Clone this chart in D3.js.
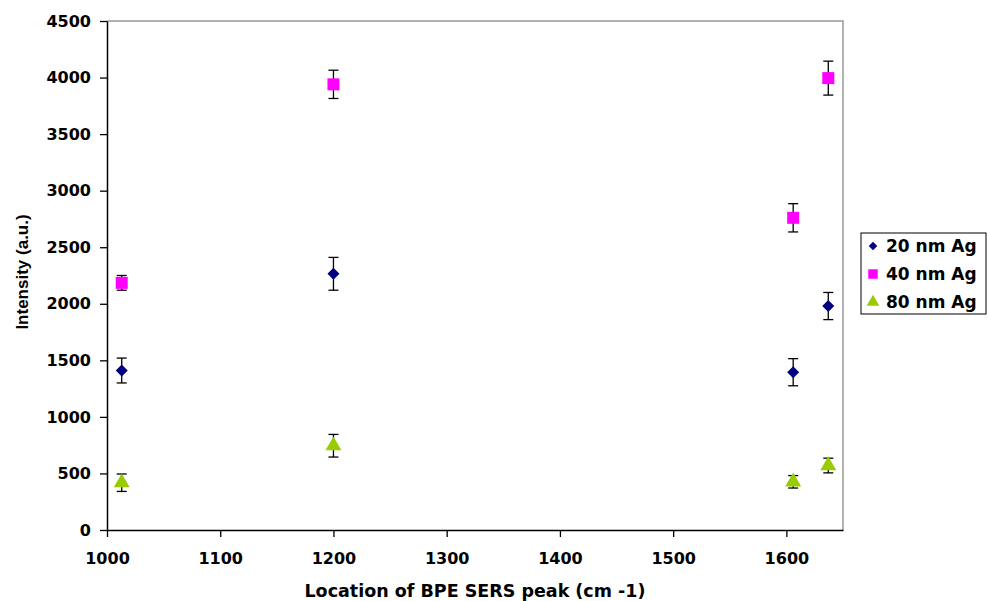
<!DOCTYPE html>
<html>
<head>
<meta charset="utf-8">
<script src="https://cdn.jsdelivr.net/npm/d3@7"></script>
<style>
  body { margin: 0; background: #fff; }
  text { font-family: "DejaVu Sans", sans-serif; font-weight: bold; }
</style>
</head>
<body>
<div id="wrapper"></div>
<script>
// peak positions (cm-1)
const peaks = [1013, 1200, 1606, 1637];
const seriesNames = ["20 nm Ag", "40 nm Ag", "80 nm Ag"];
const values20 = [1410, 2265, 1395, 1980];
const errors20 = [110, 145, 120, 120];
const values40 = [2185, 3940, 2760, 3995];
const errors40 = [65, 125, 125, 150];
const values80 = [418, 745, 426, 570];
const errors80 = [77, 100, 55, 65];
const yTicks = [0, 500, 1000, 1500, 2000, 2500, 3000, 3500, 4000, 4500];
const xTicks = [1000, 1100, 1200, 1300, 1400, 1500, 1600];

const colors = ["#000080", "#ff00ff", "#99cc00"];
const shapes = [d3.symbolSquare, d3.symbolSquare, d3.symbolTriangle];
const rotations = [45, 0, 0];

var dimension = {
    width: 987,
    height: 601,
    margin: { top: 21, right: 144, bottom: 71, left: 107 }
};
dimension.boundedWidth = dimension.width - dimension.margin.left - dimension.margin.right;
dimension.boundedHeight = dimension.height - dimension.margin.top - dimension.margin.bottom;

const svg = d3.select("#wrapper").append("svg")
    .attr("width", dimension.width)
    .attr("height", dimension.height);

const bounds = svg.append("g")
    .attr("transform", `translate(${dimension.margin.left},${dimension.margin.top})`);

const x = d3.scaleLinear().domain([1000, 1650]).range([0, dimension.boundedWidth]);
const y = d3.scaleLinear().domain([0, 4500]).range([dimension.boundedHeight, 0]);

// grey frame top + right
bounds.append("path")
    .attr("d", `M0,0H${dimension.boundedWidth}V${dimension.boundedHeight}`)
    .attr("fill", "none")
    .attr("stroke", "#999")
    .attr("stroke-width", 1.5);

const yAxis = bounds.append("g")
    .call(d3.axisLeft(y).tickValues(yTicks).tickFormat(d3.format("d"))
        .tickSize(7).tickPadding(9).tickSizeOuter(0));
const xAxis = bounds.append("g")
    .attr("transform", `translate(0,${dimension.boundedHeight})`)
    .call(d3.axisBottom(x).tickValues(xTicks).tickFormat(d3.format("d"))
        .tickSize(7).tickPadding(16).tickSizeOuter(0));

[yAxis, xAxis].forEach(a => {
    a.selectAll("text").style("font-size", "16px").attr("fill", "#000");
    a.selectAll("line").attr("stroke", "#000").attr("stroke-width", 1.3);
    a.select(".domain").attr("stroke", "#000").attr("stroke-width", 1.5);
});

const series = [
    { name: seriesNames[0], vals: values20, errs: errors20 },
    { name: seriesNames[1], vals: values40, errs: errors40 },
    { name: seriesNames[2], vals: values80, errs: errors80 }
];
const markerSize = [72, 144, 110];

series.forEach((s, si) => {
    const pts = peaks.map((p, i) => ({ x: p, v: s.vals[i], e: s.errs[i] }));
    const g = bounds.append("g");
    const eb = g.selectAll(".err").data(pts).enter().append("g").attr("class", "err")
        .attr("stroke", "#000").attr("stroke-width", 1.3);
    eb.append("line")
        .attr("x1", d => x(d.x)).attr("x2", d => x(d.x))
        .attr("y1", d => y(d.v - d.e)).attr("y2", d => y(d.v + d.e));
    eb.append("line")
        .attr("x1", d => x(d.x) - 5).attr("x2", d => x(d.x) + 5)
        .attr("y1", d => y(d.v + d.e)).attr("y2", d => y(d.v + d.e));
    eb.append("line")
        .attr("x1", d => x(d.x) - 5).attr("x2", d => x(d.x) + 5)
        .attr("y1", d => y(d.v - d.e)).attr("y2", d => y(d.v - d.e));

    g.selectAll(".pt").data(pts).enter().append("path")
        .attr("class", "pt")
        .attr("transform", d => `translate(${x(d.x)},${y(d.v)}) rotate(${rotations[si]})`)
        .attr("d", d3.symbol().type(shapes[si]).size(markerSize[si]))
        .attr("fill", colors[si]);
});

// axis titles
svg.append("text")
    .attr("x", dimension.margin.left + dimension.boundedWidth / 2)
    .attr("y", 597)
    .attr("text-anchor", "middle")
    .style("font-size", "17.5px")
    .text("Location of BPE SERS peak (cm -1)");

svg.append("text")
    .attr("transform", "translate(28,272) rotate(-90)")
    .attr("text-anchor", "middle")
    .style("font-family", "'Liberation Sans', Arial, sans-serif")
    .style("font-size", "17px")
    .text("Intensity (a.u.)");

// legend
const legend = svg.append("g").attr("transform", "translate(861,233)");
legend.append("rect")
    .attr("width", 125).attr("height", 81)
    .attr("fill", "#fff").attr("stroke", "#000").attr("stroke-width", 1);
const legendSize = [36, 90, 70];
seriesNames.forEach((n, i) => {
    const row = legend.append("g").attr("transform", `translate(0,${13 + i * 28})`);
    row.append("path")
        .attr("transform", `translate(12,0) rotate(${rotations[i]})`)
        .attr("d", d3.symbol().type(shapes[i]).size(legendSize[i]))
        .attr("fill", colors[i]);
    row.append("text")
        .attr("x", 25).attr("y", 6)
        .style("font-size", "17px")
        .text(n);
});
</script>
</body>
</html>
